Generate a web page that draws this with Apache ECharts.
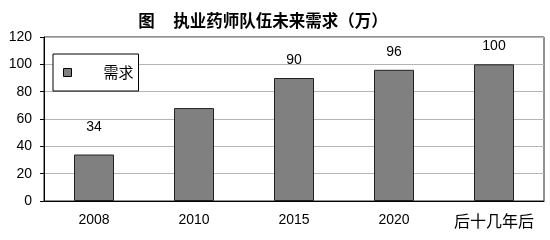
<!DOCTYPE html>
<html><head><meta charset="utf-8">
<script src="https://cdn.jsdelivr.net/npm/echarts@6/dist/echarts.min.js"></script>
<style>html,body{margin:0;padding:0;background:#fff}#c{width:550px;height:240px}</style>
</head><body><div id="c"></div>
<script>
const categories = ['2008', '2010', '2015', '2020', '后十几年后'];
const demand = [34, 68, 90, 96, 100];
const shownLabels = ['34', '', '90', '96', '100'];
const yTicks = [0, 20, 40, 60, 80, 100, 120];
const seriesName = '需求';
const titleText = '图     执业药师队伍未来需求（万）';

const numFont = '"Liberation Sans","Noto Sans CJK SC",sans-serif';
const chart = echarts.init(document.getElementById('c'), null, {renderer: 'canvas'});
chart.setOption({
  animation: false,
  backgroundColor: '#fff',
  title: {
    text: titleText, left: 258, top: 7, textAlign: 'center',
    textStyle: {fontFamily: '"Noto Sans CJK SC"', fontSize: 16.5, fontWeight: 'bold', color: '#000'}
  },
  legend: {
    data: [seriesName], left: 53, top: 54, orient: 'vertical',
    backgroundColor: '#fff', borderColor: '#000', borderWidth: 1,
    padding: [11, 5, 11, 10], itemWidth: 8, itemHeight: 8, icon: 'rect',
    itemStyle: {borderColor: '#000', borderWidth: 1},
    textStyle: {fontFamily: '"Noto Sans CJK SC"', fontSize: 15, color: '#000', padding: [0, 0, 0, 27]}
  },
  grid: {left: 44, right: 6, top: 37, bottom: 39, show: true, borderColor: '#222', borderWidth: 1},
  xAxis: {
    type: 'category', data: categories,
    axisLine: {lineStyle: {color: '#000'}},
    axisTick: {inside: true, length: 4, lineStyle: {color: '#000'}},
    axisLabel: {interval: 0, fontFamily: numFont, fontSize: 14, color: '#000', margin: 12,
      rich: {cn: {fontFamily: '"Noto Sans CJK SC"', fontSize: 16, color: '#000'}},
      formatter: v => /^\d+$/.test(v) ? v : '{cn|' + v + '}'}
  },
  yAxis: {
    type: 'value', min: yTicks[0], max: yTicks[yTicks.length - 1], interval: yTicks[1] - yTicks[0],
    axisLine: {show: true, lineStyle: {color: '#000'}},
    axisTick: {show: true, length: 4, lineStyle: {color: '#000'}},
    splitLine: {lineStyle: {color: '#b4b4b4'}},
    axisLabel: {fontFamily: numFont, fontSize: 14, color: '#000', margin: 12}
  },
  series: [{
    name: seriesName, type: 'bar', barWidth: '40%',
    data: demand.map((v, i) => ({
      value: v,
      label: {show: shownLabels[i] !== '', formatter: shownLabels[i], distance: i === 0 ? 20 : 11}
    })),
    itemStyle: {color: '#808080', borderColor: '#222', borderWidth: 1},
    label: {position: 'top', fontFamily: numFont, fontSize: 14, color: '#000'}
  }]
});
</script></body></html>
